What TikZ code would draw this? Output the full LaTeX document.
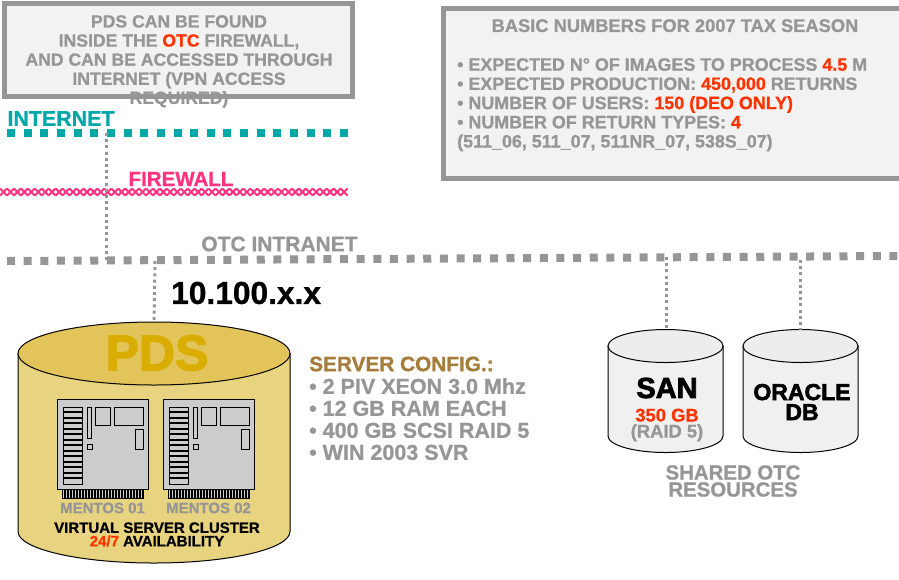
\documentclass[tikz,border=0pt]{standalone}
\usepackage{fontspec}
\setmainfont[BoldFeatures={FakeBold=0.9}]{Liberation Sans}
\newfontfamily\heavyfont[FakeBold=2.5]{Liberation Sans Bold}
\usetikzlibrary{calc}
\definecolor{boxgray}{HTML}{969696}
\definecolor{boxfill}{HTML}{F2F2F2}
\definecolor{alertred}{HTML}{FF3300}
\definecolor{netteal}{HTML}{00A8A8}
\definecolor{wallpink}{HTML}{FF3380}
\definecolor{cfgbrown}{HTML}{A67C3A}
\definecolor{podbody}{HTML}{E8D380}
\definecolor{podtop}{HTML}{E2C45A}
\definecolor{podtext}{HTML}{D9AE00}
\definecolor{cardgray}{HTML}{CCCCCC}
\definecolor{diskbody}{HTML}{F0F0F0}
\definecolor{disktop}{HTML}{EDEDED}
\newcommand{\red}[1]{\textcolor{alertred}{#1}}
\newcommand{\drum}[5]{%
    \draw[black,line width=1pt,fill=#4] ($(#1.north west)+(0,#3)$) -- ($(#1.south west)+(0,-#3)$) arc[start angle=180,end angle=0,x radius=#2,y radius=#3] -- ($(#1.north east)+(0,#3)$) -- cycle;
    \draw[black,line width=1pt,fill=#5] ($(#1.north)+(0,#3)$) ellipse[x radius=#2,y radius=#3];
}

\begin{document}
\begin{tikzpicture}[x=1pt,y=-1pt,
    infobox/.style={rectangle, draw=boxgray, fill=boxfill, line width=5pt, inner sep=0pt, outer sep=0pt},
    graytext/.style={text=boxgray, font=\bfseries\fontsize{17.6}{19.1}\selectfont, inner sep=0pt},
    net/.style={line width=8pt, dash pattern=on 8pt off 8.65pt},
    link/.style={boxgray, line width=3pt, dash pattern=on 3pt off 3.2pt},
    disk/.style={rectangle, inner sep=0pt, outer sep=0pt, minimum width=115pt, minimum height=123pt}]
    \useasboundingbox (0,0) rectangle (899,579);
    % Boxes
    \node[infobox,minimum width=348pt,minimum height=92.5pt] (note) at (178.5,49.75) {};
    \node[infobox,minimum width=462pt,minimum height=170pt,anchor=north west] (numbers) at (443.5,8.5) {};
    \node[graytext,align=center,anchor=north] (notetext) at (179,15) {PDS CAN BE FOUND\\INSIDE THE \red{OTC} FIREWALL,\\AND CAN BE ACCESSED THROUGH\\INTERNET (VPN ACCESS\\REQUIRED)};
    \node[graytext,anchor=north,font=\bfseries\fontsize{18.3}{19}\selectfont] (title) at (675,19) {BASIC NUMBERS FOR 2007 TAX SEASON};
    \node[graytext,align=left,anchor=north west,font=\bfseries\fontsize{17.9}{19.2}\selectfont] (facts) at (457,58) {\textbullet{} EXPECTED N° OF IMAGES TO PROCESS \red{4.5} M\\\textbullet{} EXPECTED PRODUCTION: \red{450,000} RETURNS\\\textbullet{} NUMBER OF USERS: \red{150 (DEO ONLY)}\\\textbullet{} NUMBER OF RETURN TYPES: \red{4}\\(511\_06, 511\_07, 511NR\_07, 538S\_07)};
    % Networks
    \coordinate (inetA) at (7,132.5);
    \coordinate (inetB) at (350,132.5);
    \coordinate (intraA) at (7,261);
    \coordinate (intraB) at (899,256);
    \coordinate (inetdrop) at (106.3,133);
    \coordinate (intradrop) at (106.3,260);
    \coordinate (podup) at (155,261);
    \coordinate (sanup) at (666.3,257);
    \coordinate (dbup) at (800.3,260);
    \draw[netteal,net] (inetA) -- (inetB);
    \draw[boxgray,net] (intraA) -- (intraB);
    \begin{scope}
        \clip (0,188.5) rectangle (352,196);
        \foreach \cx in {0,6.95,...,346}{
            \draw[wallpink,line width=2pt] (\cx,188.5) -- ++(7,7) (\cx,195.5) -- ++(7,-7);
        }
    \end{scope}
    \node[text=netteal,font=\bfseries\fontsize{21.4}{21}\selectfont,inner sep=0pt] (internet) at (61,118.5) {INTERNET};
    \node[text=wallpink,font=\bfseries\fontsize{20.5}{21}\selectfont,inner sep=0pt] (firewall) at (181,179) {FIREWALL};
    \node[text=boxgray,font=\bfseries\fontsize{21}{21}\selectfont,inner sep=0pt] (intranet) at (279.5,244) {OTC INTRANET};
    \node[font=\bfseries\fontsize{31.7}{32}\selectfont,inner sep=0pt,anchor=west] (ip) at (171,293) {10.100.x.x};
    % Storage
    \node[rectangle,inner sep=0pt,outer sep=0pt,minimum width=272pt,minimum height=241pt] (pds) at (154,442.5) {};
    \node[disk] (san) at (665.5,391) {};
    \node[disk] (db) at (800.5,391) {};
    \drum{pds}{136}{31.5}{podbody}{podtop}
    \drum{san}{57.5}{16.5}{diskbody}{disktop}
    \drum{db}{57.5}{16.5}{diskbody}{disktop}
    \draw[link] (inetdrop) -- (intradrop);
    \draw[link] (podup) -- (pds.north);
    \draw[link] (sanup) -- (sanup |- san.north);
    \draw[link] (dbup) -- (dbup |- db.north);
    \node[text=podtext,font=\heavyfont\fontsize{50}{50}\selectfont,inner sep=0pt] (pdsname) at (157,353) {PDS};
    % Cards
    \foreach \cx/\cardname in {0/MENTOS 01,106/MENTOS 02}{
        \begin{scope}[xshift=\cx pt]
            \fill[black] (62,490) rectangle (144,499);
            \foreach \tx in {63,66,...,143}{
                \draw[cardgray,line width=1pt] (\tx,490) -- (\tx,498);
            }
            \draw[black,fill=cardgray,line width=1pt] (57,399.5) rectangle (148,489.5);
            \draw[black,fill=cardgray,line width=1pt] (63.5,407) rectangle (82,484);
            \foreach \ty in {412,417.5,...,481}{
                \draw[black,line width=2pt] (63.5,\ty) -- (82,\ty);
            }
            \draw[black,line width=1pt] (87.5,407) rectangle (91,438);
            \draw[black,line width=1pt] (95,407) rectangle (110,425);
            \draw[black,line width=1pt] (114.5,407) rectangle (143,425);
            \draw[black,line width=1pt] (135,429) rectangle (143,449);
            \draw[black,line width=1pt] (87.5,444.5) rectangle (92,449);
            \node[graytext,font=\bfseries\fontsize{15}{15}\selectfont] at (102.5,508) {\cardname};
        \end{scope}
    }
    \node[align=center,font=\bfseries\fontsize{15}{13.5}\selectfont,inner sep=0pt] (cluster) at (157,534.5) {VIRTUAL SERVER CLUSTER\\\red{24/7} AVAILABILITY};
    % Text
    \node[text=cfgbrown,font=\bfseries\fontsize{20.8}{21}\selectfont,inner sep=0pt,anchor=west] (cfg) at (309,364) {SERVER CONFIG.:};
    \node[graytext,align=left,anchor=north west,font=\bfseries\fontsize{21.5}{22}\selectfont] (cfglist) at (309,378) {\textbullet{} 2 PIV XEON 3.0 Mhz\\\textbullet{} 12 GB RAM EACH\\\textbullet{} 400 GB SCSI RAID 5\\\textbullet{} WIN 2003 SVR};
    \node[font=\heavyfont\fontsize{29}{29}\selectfont,inner sep=0pt] (santext) at (667,388) {SAN};
    \node[align=center,font=\bfseries\fontsize{18.4}{16}\selectfont,inner sep=0pt,text=boxgray] (sansize) at (667,425) {\red{350 GB}\\(RAID 5)};
    \node[align=center,font=\heavyfont\fontsize{23}{20}\selectfont,inner sep=0pt] (dbtext) at (802,402) {ORACLE\\DB};
    \node[graytext,align=center,font=\bfseries\fontsize{20.4}{17}\selectfont] (shared) at (733,481) {SHARED OTC\\RESOURCES};
\end{tikzpicture}
\end{document}
